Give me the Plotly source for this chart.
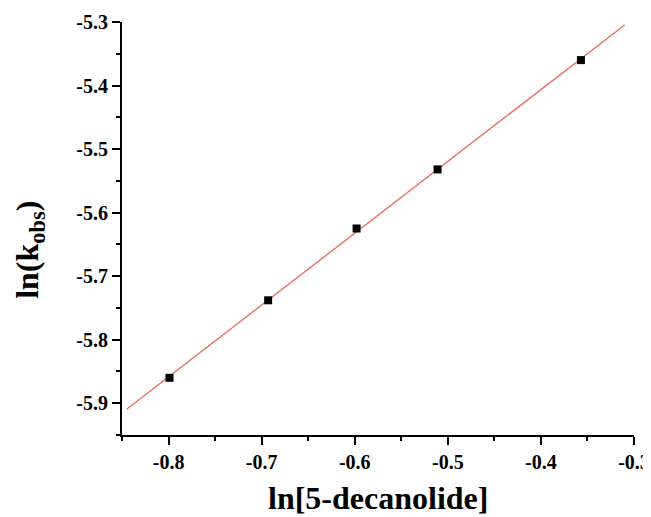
import numpy as np
import plotly.graph_objects as go

ln_decanolide = [-0.799, -0.693, -0.598, -0.511, -0.357]
ln_kobs = [-5.860, -5.738, -5.625, -5.532, -5.360]
fit_x = [-0.845, -0.31]
x_ticks = [-0.8, -0.7, -0.6, -0.5, -0.4, -0.3]
y_ticks = [-5.9, -5.8, -5.7, -5.6, -5.5, -5.4, -5.3]

slope, intercept = np.polyfit(ln_decanolide, ln_kobs, 1)
fit_y = [slope * x + intercept for x in fit_x]

fig = go.Figure()
fig.add_trace(go.Scatter(x=fit_x, y=fit_y, mode="lines",
                         line=dict(color="rgb(232,112,100)", width=1.4),
                         showlegend=False, hoverinfo="skip"))
fig.add_trace(go.Scatter(x=ln_decanolide, y=ln_kobs, mode="markers",
                         marker=dict(symbol="square", size=8, color="black"),
                         showlegend=False))

font_t = dict(family="Liberation Serif", size=20, color="black")
fig.update_layout(
    width=643, height=509,
    margin=dict(l=114, r=17, t=14, b=82),
    plot_bgcolor="white", paper_bgcolor="white",
    xaxis=dict(range=[-0.85, -0.3], tickvals=x_ticks, automargin=False,
               ticktext=[f"<b>{v:g}</b>" for v in x_ticks],
               ticks="outside", ticklen=8, tickwidth=2, tickcolor="black",
               showline=True, linecolor="black", linewidth=2,
               showgrid=False, zeroline=False, tickfont=font_t,
               minor=dict(ticks="outside", ticklen=4, tickwidth=2, tickcolor="black", dtick=0.05, tick0=-0.85)),
    yaxis=dict(range=[-5.95, -5.3], tickvals=y_ticks, automargin=False,
               ticktext=[f"<b>{v:g}</b>" for v in y_ticks],
               ticks="outside", ticklen=8, tickwidth=2, tickcolor="black",
               showline=True, linecolor="black", linewidth=2,
               showgrid=False, zeroline=False, tickfont=font_t,
               minor=dict(ticks="outside", ticklen=4, tickwidth=2, tickcolor="black", dtick=0.05, tick0=-5.95)),
)
fig.add_annotation(text="<b>ln[5-decanolide]</b>", xref="paper", yref="paper",
                   x=0.5, y=-0.152, showarrow=False,
                   xanchor="center", yanchor="middle",
                   font=dict(family="Liberation Serif", size=32, color="black"))
fig.add_annotation(text="<b>ln(k<sub>obs</sub>)</b>", xref="paper", yref="paper",
                   x=-0.18, y=0.448, textangle=-90, showarrow=False,
                   xanchor="center", yanchor="middle",
                   font=dict(family="Liberation Serif", size=32, color="black"))
fig.write_html("out.html")
